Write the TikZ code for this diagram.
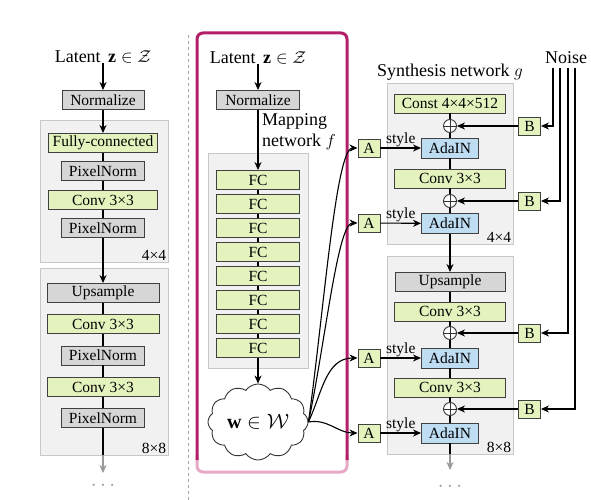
\documentclass[tikz,border=0pt]{standalone}
\usepackage{fontspec}
\setmainfont{Liberation Serif}
\usetikzlibrary{arrows.meta,shapes.symbols}

\definecolor{fcgreen}{RGB}{228,243,190}
\definecolor{normgray}{RGB}{214,214,214}
\definecolor{adablue}{RGB}{190,220,242}
\definecolor{blockgray}{RGB}{241,241,241}
\definecolor{mapmagenta}{RGB}{178,30,104}
\definecolor{mappink}{RGB}{232,168,198}

\begin{document}
\begin{tikzpicture}[
    x=1pt, y=-1pt,
    node distance=24pt,
    box/.style={rectangle, draw=black!75, line width=0.9pt, inner sep=0pt, minimum height=19pt, font=\fontsize{15.5}{18}\selectfont},
    fc/.style={box, fill=fcgreen},
    norm/.style={box, fill=normgray},
    ada/.style={box, fill=adablue, minimum width=57pt, minimum height=20pt},
    abox/.style={box, fill=fcgreen, minimum width=22pt, minimum height=18pt},
    block/.style={rectangle, draw=black!22, fill=blockgray, line width=0.8pt, inner sep=0pt},
    heading/.style={font=\fontsize{18}{21}\selectfont, inner sep=0pt},
    small/.style={font=\fontsize{15.5}{18}\selectfont, inner sep=2pt},
    more/.style={font=\fontsize{22}{24}\selectfont, text=black!40, inner sep=0pt},
    addop/.style={circle, draw=black!80, fill=white, line width=0.9pt, minimum size=13pt, inner sep=0pt,
        path picture={\draw[line width=0.8pt] (path picture bounding box.north) -- (path picture bounding box.south)
            (path picture bounding box.west) -- (path picture bounding box.east);}},
    arrow/.style={-{Stealth[length=8pt, width=7pt, inset=2.5pt]}, line width=1.1pt},
    link/.style={line width=1.1pt},
    fade/.style={arrow, draw=black!40}
]
\useasboundingbox (0,0) rectangle (591,500);

% traditional generator
\node[heading] (latL) at (103,57) {Latent \,$\mathbf{z}\in\mathcal{Z}$};
\node[norm, minimum width=82pt] (normL) at (103,100) {Normalize};
\node[block, minimum width=128pt, minimum height=142pt] (blkL1) at (104,191) {};
\node[block, minimum width=128pt, minimum height=187pt] (blkL2) at (104,361.5) {};
\node[fc, minimum width=109pt] (fcL) at (103,143) {Fully-connected};
\node[norm, minimum width=83pt] (pnL1) at (103,171) {PixelNorm};
\node[fc, minimum width=109pt] (cvL1) at (103,200) {Conv 3×3};
\node[norm, minimum width=83pt] (pnL2) at (103,228) {PixelNorm};
\node[small, anchor=south east] (resL1) at (blkL1.south east) {4×4};
\node[norm, minimum width=112pt] (upL) at (103,293) {Upsample};
\node[fc, minimum width=112pt] (cvL2) at (103,324) {Conv 3×3};
\node[norm, minimum width=83pt] (pnL3) at (103,355.5) {PixelNorm};
\node[fc, minimum width=112pt] (cvL3) at (103,387) {Conv 3×3};
\node[norm, minimum width=83pt] (pnL4) at (103,418) {PixelNorm};
\node[small, anchor=south east] (resL2) at (blkL2.south east) {8×8};
\coordinate (exitL) at (103,455);
\coordinate (endL) at (103,473);
\node[more] (dotsL) at (103,486) {$\cdots$};

\draw[arrow] (latL) -- (normL);
\draw[arrow] (normL) -- (fcL);
\draw[link] (fcL) -- (pnL1);
\draw[link] (pnL1) -- (cvL1);
\draw[link] (cvL1) -- (pnL2);
\draw[arrow] (pnL2) -- (upL);
\draw[link] (upL) -- (cvL2);
\draw[link] (cvL2) -- (pnL3);
\draw[link] (pnL3) -- (cvL3);
\draw[link] (cvL3) -- (pnL4);
\draw[link] (pnL4) -- (exitL);
\draw[fade] (exitL) -- (endL);

\draw[black!35, dashed, line width=0.8pt] (188,35) -- (188,500);

% mapping network
\draw[mappink, line width=3pt, rounded corners=6pt] (197,455) -- (197,472) -- (347,472) -- (347,455);
\draw[mapmagenta, line width=3pt, rounded corners=6pt] (197,460) -- (197,33) -- (347,33) -- (347,460);

\node[heading] (latM) at (258,58) {Latent \,$\mathbf{z}\in\mathcal{Z}$};
\node[norm, minimum width=83pt] (normM) at (258,100) {Normalize};
\node[heading, anchor=north west, align=left] (mapname) at (262,113) {Mapping\\network $f$};
\node[block, minimum width=100pt, minimum height=215pt] (blkM) at (258,260.5) {};
\node[fc, minimum width=83pt] (fc1) at (258,180) {FC};
\node[fc, minimum width=83pt] (fc2) [below of=fc1] {FC};
\node[fc, minimum width=83pt] (fc3) [below of=fc2] {FC};
\node[fc, minimum width=83pt] (fc4) [below of=fc3] {FC};
\node[fc, minimum width=83pt] (fc5) [below of=fc4] {FC};
\node[fc, minimum width=83pt] (fc6) [below of=fc5] {FC};
\node[fc, minimum width=83pt] (fc7) [below of=fc6] {FC};
\node[fc, minimum width=83pt] (fc8) [below of=fc7] {FC};
\node[cloud, draw=black!80, fill=white, line width=0.9pt, cloud puffs=12, cloud puff arc=110, aspect=1.35,
    minimum width=100pt, minimum height=76pt, inner sep=0pt, font=\fontsize{20}{24}\selectfont] (w) at (258,422) {$\mathbf{w}\in\mathcal{W}$};

\draw[arrow] (latM) -- (normM);
\draw[arrow] (normM) -- (fc1);
\draw[link] (fc1) -- (fc2);
\draw[link] (fc2) -- (fc3);
\draw[link] (fc3) -- (fc4);
\draw[link] (fc4) -- (fc5);
\draw[link] (fc5) -- (fc6);
\draw[link] (fc6) -- (fc7);
\draw[link] (fc7) -- (fc8);
\draw[arrow] (fc8) -- (w);

% synthesis network
\node[heading] (synname) at (450,72) {Synthesis network $g$};
\node[heading] (noise) at (566,58) {Noise};
\node[block, minimum width=126pt, minimum height=161pt] (blkS1) at (450,163.5) {};
\node[block, minimum width=126pt, minimum height=198pt] (blkS2) at (450,355) {};

\node[fc, minimum width=111pt] (const) at (450,103.5) {Const 4×4×512};
\node[addop] (add1) at (450,126) {};
\node[ada] (ada1) at (450,148) {AdaIN};
\node[fc, minimum width=111pt] (cvS1) at (450,178.5) {Conv 3×3};
\node[addop] (add2) at (450,201) {};
\node[ada] (ada2) at (450,223.5) {AdaIN};
\node[small, anchor=south east] (resS1) at (blkS1.south east) {4×4};
\node[norm, minimum width=110pt] (upS) at (450,282) {Upsample};
\node[fc, minimum width=111pt] (cvS2) at (450,311.5) {Conv 3×3};
\node[addop] (add3) at (450,333) {};
\node[ada] (ada3) at (450,358) {AdaIN};
\node[fc, minimum width=111pt] (cvS3) at (450,387.5) {Conv 3×3};
\node[addop] (add4) at (450,409) {};
\node[ada] (ada4) at (450,433) {AdaIN};
\node[small, anchor=south east] (resS2) at (blkS2.south east) {8×8};
\coordinate (exitS) at (450,454);
\coordinate (endS) at (450,470);
\node[more] (dotsS) at (450,487) {$\cdots$};

\node[abox] (a1) at (369,148) {A};
\node[abox] (a2) at (369,223) {A};
\node[abox] (a3) at (369,358) {A};
\node[abox] (a4) at (369,433) {A};
\node[abox] (b1) at (529.5,126) {B};
\node[abox] (b2) at (529.5,201) {B};
\node[abox] (b3) at (529.5,333) {B};
\node[abox] (b4) at (529.5,409) {B};

\coordinate (nz1) at (553,68);
\coordinate (nz2) at (560,68);
\coordinate (nz3) at (568,68);
\coordinate (nz4) at (575,68);

\draw[link] (const) -- (add1);
\draw[link] (add1) -- (ada1);
\draw[link] (ada1) -- (cvS1);
\draw[link] (cvS1) -- (add2);
\draw[link] (add2) -- (ada2);
\draw[arrow] (ada2) -- (upS);
\draw[link] (upS) -- (cvS2);
\draw[link] (cvS2) -- (add3);
\draw[link] (add3) -- (ada3);
\draw[link] (ada3) -- (cvS3);
\draw[link] (cvS3) -- (add4);
\draw[link] (add4) -- (ada4);
\draw[link] (ada4) -- (exitS);
\draw[fade] (exitS) -- (endS);

\draw[arrow] (a1) -- node[small, above, inner sep=1pt] {style} (ada1);
\draw[arrow] (a2) -- node[small, above, inner sep=1pt] {style} (ada2);
\draw[arrow] (a3) -- node[small, above, inner sep=1pt] {style} (ada3);
\draw[arrow] (a4) -- node[small, above, inner sep=1pt] {style} (ada4);

\draw[arrow] (b1) -- (add1);
\draw[arrow] (b2) -- (add2);
\draw[arrow] (b3) -- (add3);
\draw[arrow] (b4) -- (add4);

\draw[arrow] (nz1) |- (b1);
\draw[arrow] (nz2) |- (b2);
\draw[arrow] (nz3) |- (b3);
\draw[arrow] (nz4) |- (b4);

% styles from w
\draw[arrow] (w.east) to[out=82, in=180, out looseness=1, in looseness=0.2] (a1);
\draw[arrow] (w.east) to[out=78, in=180, out looseness=1, in looseness=0.25] (a2);
\draw[arrow] (w.east) to[out=65, in=180] (a3);
\draw[arrow] (w.east) to[out=10, in=180] (a4);

\end{tikzpicture}
\end{document}
